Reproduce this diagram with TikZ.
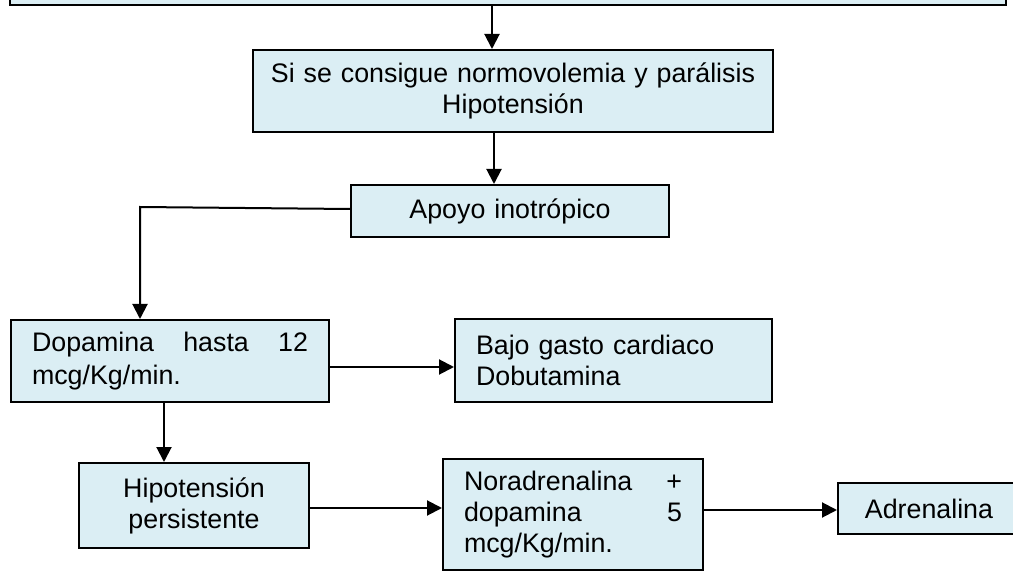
\documentclass[tikz,border=0pt]{standalone}
\usepackage{fontspec}
\setmainfont{Liberation Sans}
\usetikzlibrary{arrows.meta}
\definecolor{boxfill}{RGB}{219,238,244}
\tikzset{
  flowbox/.style={draw=black, line width=2pt, fill=boxfill, inner xsep=21pt,
    inner ysep=0pt, font=\fontsize{26.8}{31}\selectfont},
  arr/.style={line width=2pt, -{Triangle[length=15pt,width=15pt]}}
}
\begin{document}
\begin{tikzpicture}[x=1pt,y=-1pt]
\useasboundingbox (0,0) rectangle (1013,572);
\clip (0,0) rectangle (1013,572);

% boxes
\node[flowbox, minimum width=996pt, minimum height=60pt] (top) at (508,-25) {};
\node[flowbox, minimum width=520pt, minimum height=82pt, inner xsep=6pt, text width=506pt, align=center] (si) at (513,91)
  {Si se consigue normovolemia y parálisis\\Hipotensión};
\node[flowbox, minimum width=318pt, minimum height=52pt, text width=276pt, align=center] (apoyo) at (510,211)
  {Apoyo inotrópico};
\node[flowbox, minimum width=318pt, minimum height=82pt, text width=276pt, align=left,
  font=\fontsize{26.8}{33}\selectfont] (dop) at (170,361)
  {Dopamina\hfill hasta\hfill 12\\mcg/Kg/min.};
\node[flowbox, minimum width=317pt, minimum height=83pt, text width=275pt, align=left] (bajo) at (613.5,360.5)
  {Bajo gasto cardiaco\\Dobutamina};
\node[flowbox, minimum width=230pt, minimum height=85pt, text width=188pt, align=center] (hip) at (194,505.5)
  {Hipotensión\\persistente};
\node[flowbox, minimum width=260pt, minimum height=111pt, text width=218pt, align=left] (nor) at (573,514.5)
  {Noradrenalina\hfill +\\dopamina\hfill 5\\mcg/Kg/min.};
\node[flowbox, minimum width=182pt, minimum height=51pt, text width=140pt, align=center] (adr) at (929,508.5)
  {Adrenalina};

% connector guides
\coordinate (xa) at (492,0);
\coordinate (xb) at (494,0);
\coordinate (bend) at (140,207);
\coordinate (ya) at (0,367);
\coordinate (xc) at (164,0);
\coordinate (yb) at (0,508);
\coordinate (yc) at (0,510);

% connectors
\draw[arr] (top.south -| xa) -- (si.north -| xa);
\draw[arr] (si.south -| xb) -- (apoyo.north -| xb);
\draw[arr] ([yshift=2pt]apoyo.west) -- (bend) -- (bend |- dop.north);
\draw[arr] (dop.east |- ya) -- (bajo.west |- ya);
\draw[arr] (dop.south -| xc) -- (hip.north -| xc);
\draw[arr] (hip.east |- yb) -- (nor.west |- yb);
\draw[arr] (nor.east |- yc) -- (adr.west |- yc);
\end{tikzpicture}
\end{document}
